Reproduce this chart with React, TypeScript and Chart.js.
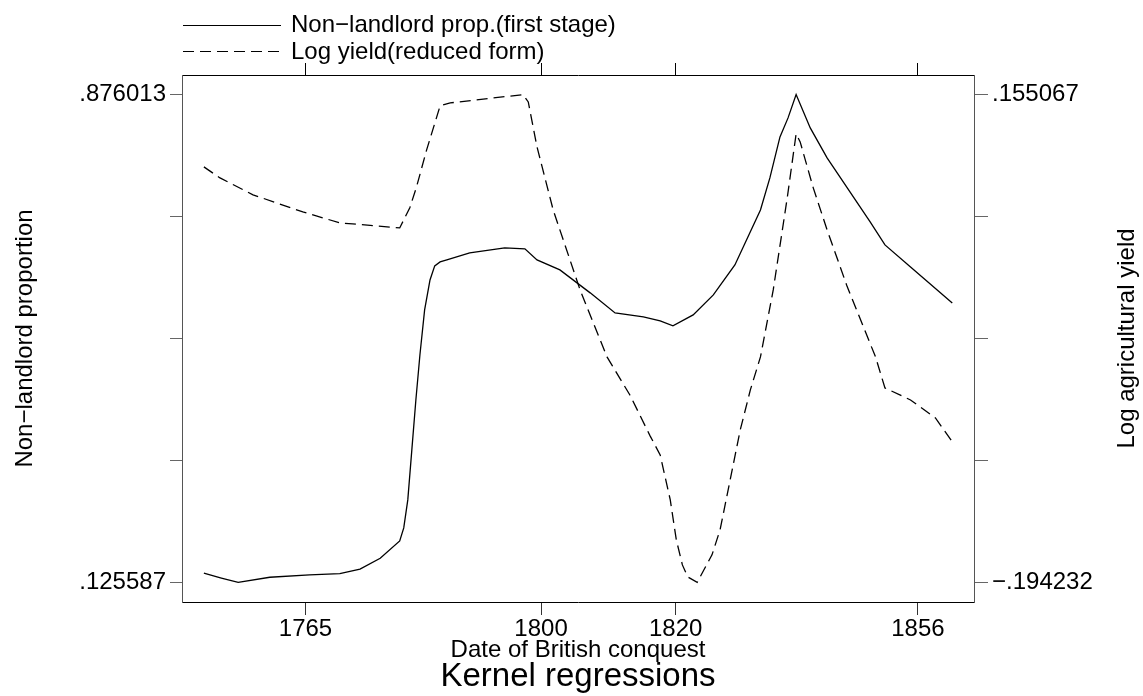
import React, { useEffect, useRef } from 'react';
import { Chart, registerables } from 'chart.js';

Chart.register(...registerables);

// ---- data ----
const landlordYears = [
  1749.9, 1752.5, 1755.0, 1759.7, 1765.6, 1770.1, 1773.1, 1776.1, 1779.0, 1779.6,
  1780.2, 1780.8, 1781.4, 1782.0, 1782.7, 1783.5, 1784.2, 1785.0, 1786.0, 1789.4,
  1794.6, 1797.6, 1799.4, 1802.8, 1807.3, 1811.0, 1815.2, 1817.7, 1819.6, 1822.6,
  1825.6, 1828.8, 1832.6, 1834.0, 1835.5, 1836.7, 1837.9, 1840.0, 1842.5, 1845.5,
  1848.9, 1851.1, 1854.9, 1861.1,
];
const landlordValues = [
  0.1397, 0.1323, 0.125587, 0.1335, 0.1371, 0.1391, 0.1459, 0.1628, 0.1894, 0.2094,
  0.2525, 0.3294, 0.4063, 0.4755, 0.5448, 0.5909, 0.6125, 0.6186, 0.6217, 0.6325,
  0.6402, 0.6387, 0.6217, 0.6063, 0.5710, 0.5401, 0.5340, 0.5278, 0.5202, 0.5371,
  0.5678, 0.6140, 0.6986, 0.7478, 0.8109, 0.8402, 0.876013, 0.8248, 0.7786, 0.7325,
  0.6802, 0.6448, 0.6109, 0.5555,
];

const yieldYears = [
  1749.9, 1752.3, 1757.2, 1764.6, 1770.1, 1772.0, 1779.0, 1780.5, 1781.5, 1783.0,
  1785.0, 1786.5, 1797.3, 1798.1, 1799.4, 1801.8, 1804.3, 1805.8, 1809.8, 1810.6,
  1813.2, 1816.2, 1817.7, 1819.2, 1820.1, 1821.0, 1821.8, 1823.2, 1825.4, 1826.6,
  1828.1, 1829.6, 1831.1, 1832.6, 1834.5, 1836.6, 1837.9, 1838.5, 1840.4, 1842.5,
  1845.5, 1849.7, 1851.1, 1854.9, 1858.6, 1861.0,
];
const yieldValues = [
  0.1033, 0.0954, 0.0833, 0.0711, 0.0632, 0.0625, 0.0596, 0.0740, 0.0890, 0.1155,
  0.1470, 0.1491, 0.155067, 0.1498, 0.1176, 0.0725, 0.0367, 0.0152, -0.0328, -0.0392,
  -0.0600, -0.0893, -0.1029, -0.1352, -0.1638, -0.1817, -0.1903, -0.194232, -0.1745, -0.1566,
  -0.1208, -0.0850, -0.0564, -0.0328, 0.0152, 0.0818, 0.1270, 0.1212, 0.0890, 0.0582,
  0.0174, -0.0328, -0.0550, -0.0636, -0.0765, -0.0929,
];

const xTickValues = [1765, 1800, 1820, 1856];
const xRange = [1746.65, 1864.33];
const leftDataRange = [0.125587, 0.876013];
const rightDataRange = [-0.194232, 0.155067];
const leftTickLabels = ['.125587', '', '', '', '.876013'];
const rightTickLabels = ['\u2212.194232', '', '', '', '.155067'];
const legendLabels = ['Non\u2212landlord prop.(first stage)', 'Log yield(reduced form)'];
const xTitle = 'Date of British conquest';
const leftTitle = 'Non\u2212landlord proportion';
const rightTitle = 'Log agricultural yield';
const chartTitle = 'Kernel regressions';

const FONT = '"Liberation Sans", Arial, Helvetica, sans-serif';
const PAD_FRAC = 19.6 / 487.8;

function padded(r: number[]) {
  const p = (r[1] - r[0]) * PAD_FRAC;
  return [r[0] - p, r[1] + p];
}
function fiveTicks(r: number[]) {
  const out: { value: number }[] = [];
  for (let i = 0; i < 5; i++) out.push({ value: r[0] + ((r[1] - r[0]) * i) / 4 });
  return out;
}

const textPlugin = {
  id: 'stataText',
  afterDraw(chart: any) {
    const ctx = chart.ctx as CanvasRenderingContext2D;
    const area = chart.chartArea;
    const cx = (area.left + area.right) / 2;
    const cy = (area.top + area.bottom) / 2;
    ctx.save();
    ctx.fillStyle = '#000';
    ctx.strokeStyle = '#000';
    ctx.lineWidth = 1.2;
    // legend
    ctx.beginPath();
    ctx.moveTo(183, 25.5);
    ctx.lineTo(281, 25.5);
    ctx.stroke();
    ctx.setLineDash([11, 6]);
    ctx.beginPath();
    ctx.moveTo(183, 51.5);
    ctx.lineTo(284, 51.5);
    ctx.stroke();
    ctx.setLineDash([]);
    ctx.font = `24px ${FONT}`;
    ctx.textAlign = 'left';
    ctx.textBaseline = 'alphabetic';
    ctx.fillText(legendLabels[0], 291, 32);
    ctx.fillText(legendLabels[1], 291, 58.5);
    // x title
    ctx.textAlign = 'center';
    ctx.fillText(xTitle, cx, 657);
    // main title
    ctx.font = `33px ${FONT}`;
    ctx.fillText(chartTitle, cx, 686);
    // left title
    ctx.font = `24px ${FONT}`;
    ctx.save();
    ctx.translate(31.5, cy);
    ctx.rotate(-Math.PI / 2);
    ctx.fillText(leftTitle, 0, 0);
    ctx.restore();
    // right title
    ctx.save();
    ctx.translate(1134, cy);
    ctx.rotate(-Math.PI / 2);
    ctx.fillText(rightTitle, 0, 0);
    ctx.restore();
    ctx.restore();
  },
};

export default function App() {
  const ref = useRef<HTMLCanvasElement | null>(null);
  useEffect(() => {
    if (!ref.current) return;
    const leftR = padded(leftDataRange);
    const rightR = padded(rightDataRange);
    const tickFont = { family: FONT, size: 24 };
    const chart = new Chart(ref.current, {
      type: 'line',
      data: {
        datasets: [
          {
            label: legendLabels[0],
            data: landlordYears.map((x, i) => ({ x, y: landlordValues[i] })),
            borderColor: '#000',
            borderWidth: 1.3,
            pointRadius: 0,
            tension: 0,
            fill: false,
            yAxisID: 'y',
            xAxisID: 'x',
          },
          {
            label: legendLabels[1],
            data: yieldYears.map((x, i) => ({ x, y: yieldValues[i] })),
            borderColor: '#000',
            borderWidth: 1.3,
            borderDash: [11, 6],
            pointRadius: 0,
            tension: 0,
            fill: false,
            yAxisID: 'y2',
            xAxisID: 'x',
          },
        ],
      },
      options: {
        responsive: true,
        maintainAspectRatio: false,
        animation: false,
        events: [],
        layout: { padding: 0 },
        plugins: {
          legend: { display: false },
          tooltip: { enabled: false },
          title: { display: false },
        },
        scales: {
          x: {
            type: 'linear',
            position: 'bottom',
            min: xRange[0],
            max: xRange[1],
            afterBuildTicks: (s: any) => {
              s.ticks = xTickValues.map((v) => ({ value: v }));
            },
            afterFit: (s: any) => {
              s.height = 94;
            },
            ticks: {
              callback: (v: any) => String(v),
              font: tickFont,
              color: '#000',
              padding: 0,
              maxRotation: 0,
              autoSkip: false,
            },
            grid: { drawOnChartArea: false, drawTicks: true, tickLength: 13, tickColor: '#333', tickWidth: 1 },
            border: { display: true, color: '#000', width: 1 },
          },
          xTop: {
            type: 'linear',
            position: 'top',
            min: xRange[0],
            max: xRange[1],
            afterBuildTicks: (s: any) => {
              s.ticks = xTickValues.map((v) => ({ value: v }));
            },
            afterFit: (s: any) => {
              s.height = 75;
            },
            ticks: { display: false },
            grid: { drawOnChartArea: false, drawTicks: true, tickLength: 12, tickColor: '#000', tickWidth: 1 },
            border: { display: true, color: '#000', width: 1 },
          },
          y: {
            type: 'linear',
            position: 'left',
            min: leftR[0],
            max: leftR[1],
            afterBuildTicks: (s: any) => {
              s.ticks = fiveTicks(leftDataRange);
            },
            afterFit: (s: any) => {
              s.width = 182;
            },
            ticks: {
              callback: (_v: any, i: number) => leftTickLabels[i],
              font: tickFont,
              color: '#000',
              padding: 4,
              autoSkip: false,
            },
            grid: { drawOnChartArea: false, drawTicks: true, tickLength: 12, tickColor: '#666', tickWidth: 1 },
            border: { display: true, color: '#555', width: 1 },
          },
          y2: {
            type: 'linear',
            position: 'right',
            min: rightR[0],
            max: rightR[1],
            afterBuildTicks: (s: any) => {
              s.ticks = fiveTicks(rightDataRange);
            },
            afterFit: (s: any) => {
              s.width = 169;
            },
            ticks: {
              callback: (_v: any, i: number) => rightTickLabels[i],
              font: tickFont,
              color: '#000',
              padding: 4,
              autoSkip: false,
            },
            grid: { drawOnChartArea: false, drawTicks: true, tickLength: 14, tickColor: '#666', tickWidth: 1 },
            border: { display: true, color: '#555', width: 1 },
          },
        },
      } as any,
      plugins: [textPlugin],
    });
    return () => chart.destroy();
  }, []);

  return (
    <div
      style={{
        position: 'absolute',
        left: 0,
        top: 0,
        width: 1143,
        height: 696,
        background: '#fff',
      }}
    >
      <canvas ref={ref} />
    </div>
  );
}
